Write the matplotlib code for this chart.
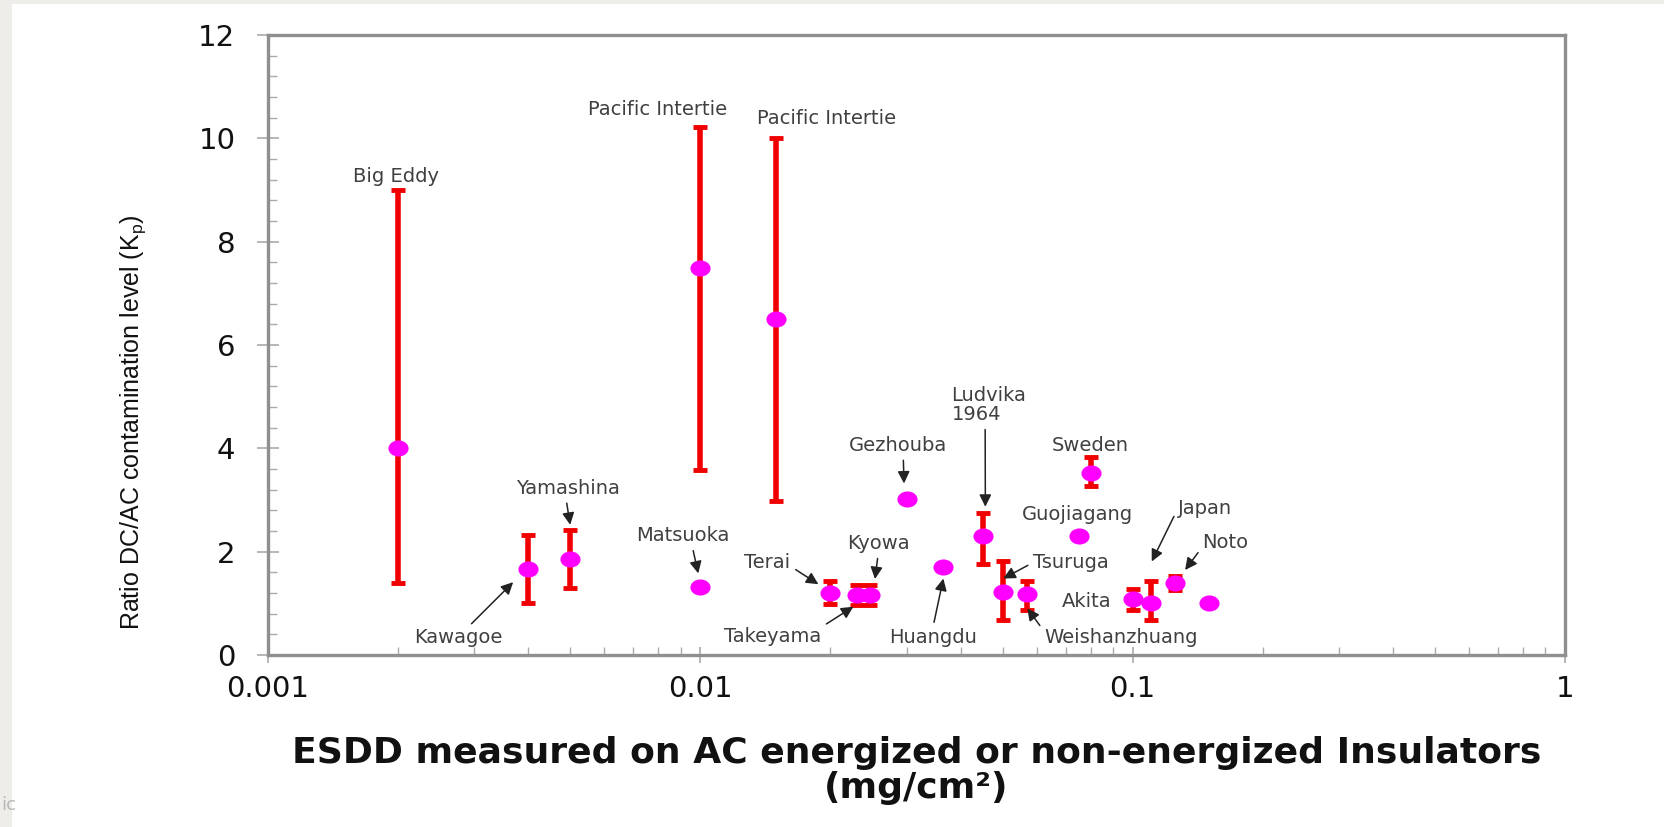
import matplotlib
matplotlib.use('Agg')
import matplotlib.pyplot as plt
import numpy as np
from matplotlib import font_manager
from matplotlib.path import Path
from matplotlib.transforms import Affine2D
from matplotlib.patches import Rectangle
from matplotlib.ticker import FixedLocator, FixedFormatter, MultipleLocator, LogLocator, NullFormatter

# ESDD (mg/cm2) and DC/AC ratio per site, with the range of the ratio (nan = no bar)
esdd = [0.002, 0.004, 0.005, 0.01, 0.01, 0.015, 0.02, 0.023, 0.0247, 0.03,
        0.0364, 0.045, 0.05, 0.057, 0.075, 0.08, 0.1, 0.11, 0.125, 0.15]
ratio = [4.0, 1.66, 1.86, 1.31, 7.5, 6.5, 1.2, 1.16, 1.16, 3.02,
         1.71, 2.31, 1.21, 1.19, 2.31, 3.52, 1.08, 1.0, 1.39, 1.0]
ratio_lo = [1.4, 1.0, 1.29, np.nan, 3.59, 2.99, 0.98, 0.96, 0.96, np.nan,
            np.nan, 1.76, 0.68, 0.87, np.nan, 3.27, 0.88, 0.68, 1.26, np.nan]
ratio_hi = [9.0, 2.32, 2.41, np.nan, 10.21, 10.0, 1.43, 1.35, 1.35, np.nan,
            np.nan, 2.75, 1.82, 1.43, np.nan, 3.84, 1.27, 1.43, 1.52, np.nan]

# site names, where they sit, and where their arrows point
label_text = ['Big Eddy', 'Pacific Intertie', 'Pacific Intertie', 'Yamashina', 'Kawagoe',
              'Matsuoka', 'Terai', 'Kyowa', 'Takeyama', 'Gezhouba', 'Huangdu',
              'Ludvika\n1964', 'Sweden', 'Guojiagang', 'Tsuruga', 'Weishanzhuang',
              'Akita', 'Japan', 'Noto']
label_x = [0.00198, 0.00798, 0.01963, 0.00494, 0.00275, 0.0091, 0.0143, 0.0258, 0.0147,
           0.0287, 0.0345, 0.0465, 0.0797, 0.0747, 0.072, 0.094, 0.0784, 0.147, 0.164]
label_y = [9.27, 10.55, 10.39, 3.23, 0.33, 2.31, 1.79, 2.16, 0.354,
           4.06, 0.343, 4.84, 4.06, 2.71, 1.79, 0.343, 1.03, 2.84, 2.17]
arrow_x = [None, None, None, 0.005, 0.00369, 0.00989, 0.01875, 0.02535, 0.02259,
           0.02959, 0.03648, 0.04563, None, None, 0.05021, 0.05706, None, 0.1107, 0.1322]
arrow_y = [None, None, None, 2.52, 1.41, 1.58, 1.37, 1.47, 0.935,
           3.32, 1.48, 2.87, None, None, 1.48, 0.904, None, 1.81, 1.645]
arrow_from = [None, None, None, (0.48, 0), (0.6, 1), (0.6, 0), (1, 0.3), (0.5, 0), (1, 1),
              (0.55, 0), (0.5, 1), (0.45, 0), None, None, (0, 0.5), (0, 0.8), None,
              (0, 0.5), (0, 0.3)]

x_ticks = [0.001, 0.01, 0.1, 1]
x_ticklabels = ['0.001', '0.01', '0.1', '1']
y_ticks = [0, 2, 4, 6, 8, 10, 12]

names = {f.name for f in font_manager.fontManager.ttflist}
narrow = 'Liberation Sans Narrow' in names
ylab_font = 'Liberation Sans Narrow' if narrow else 'Liberation Sans'
ylab_size = 22 if narrow else 18

plt.rcParams['font.family'] = ['DejaVu Sans']

fig = plt.figure(figsize=(16.65, 8.27), dpi=100, facecolor='#eeede9')
fig.patches.append(Rectangle((12 / 1665, 0), 1, 823 / 827, transform=fig.transFigure,
                             facecolor='white', edgecolor='none', zorder=-1))
fig.text(0.0008, 22 / 827, 'ic', color='#b8b8b8', fontsize=13, va='center')

ax = fig.add_axes([268 / 1665, 172 / 827, 1297 / 1665, 620 / 827])
ax.set_xscale('log')
ax.set_xlim(0.001, 1)
ax.set_ylim(0, 12)

lo = np.array(ratio_lo)
hi = np.array(ratio_hi)
x = np.array(esdd)
y = np.array(ratio)
has_bar = ~np.isnan(lo)
ax.errorbar(x[has_bar], y[has_bar], yerr=[y[has_bar] - lo[has_bar], hi[has_bar] - y[has_bar]],
            fmt='none', ecolor='#f00000', elinewidth=4, capsize=4.8, capthick=3.5, zorder=2)

oval = Path.unit_circle().transformed(Affine2D().scale(1.25, 1.0))
ax.plot(x, y, linestyle='none', marker=oval, markersize=14.5, color='#ff00ff',
        markeredgewidth=0, zorder=3)

for i, txt in enumerate(label_text):
    if arrow_x[i] is None:
        ax.text(label_x[i], label_y[i], txt, ha='center', va='center', fontsize=14,
                color='#404040', multialignment='left', linespacing=1.0)
    else:
        ax.annotate(txt, xy=(arrow_x[i], arrow_y[i]), xytext=(label_x[i], label_y[i]),
                    ha='center', va='center', fontsize=14, color='#404040',
                    multialignment='left', linespacing=1.0,
                    arrowprops=dict(arrowstyle='-|>', color='#222222', lw=1.1,
                                    mutation_scale=18, shrinkA=2, shrinkB=0,
                                    relpos=arrow_from[i]))

for side in ['left', 'bottom', 'top', 'right']:
    ax.spines[side].set_color('#8f8f8f')
    ax.spines[side].set_linewidth(2.4)

ax.xaxis.set_major_locator(FixedLocator(x_ticks))
ax.xaxis.set_major_formatter(FixedFormatter(x_ticklabels))
ax.xaxis.set_minor_locator(LogLocator(base=10, subs=np.arange(2, 10)))
ax.xaxis.set_minor_formatter(NullFormatter())
ax.yaxis.set_major_locator(FixedLocator(y_ticks))
ax.yaxis.set_minor_locator(MultipleLocator(0.4))

ax.tick_params(axis='y', which='major', direction='inout', length=16, width=1.2,
               color='#aaaaaa', labelsize=21, pad=15.5, labelcolor='#111111')
ax.tick_params(axis='y', which='minor', direction='in', length=6.5, width=1.0, color='#aaaaaa')
ax.tick_params(axis='x', which='major', direction='inout', length=11.5, width=1.2,
               color='#aaaaaa', labelsize=21, pad=9, labelcolor='#111111')
ax.tick_params(axis='x', which='minor', direction='in', length=6, width=1.0, color='#aaaaaa')

ax.set_ylabel('Ratio DC/AC contamination level (K$\\mathregular{_p}$)',
              fontsize=ylab_size, family=ylab_font, color='#111111')
ax.yaxis.label.set_va('center')
ax.yaxis.set_label_coords(-0.104, 0.376)

ax.set_xlabel('ESDD measured on AC energized or non-energized Insulators\n(mg/cm²)',
              fontsize=26, fontweight='bold', linespacing=1.05, color='#111111')
ax.xaxis.set_label_coords(0.5, -0.13)

fig.savefig('out.png', dpi=100, facecolor=fig.get_facecolor())
